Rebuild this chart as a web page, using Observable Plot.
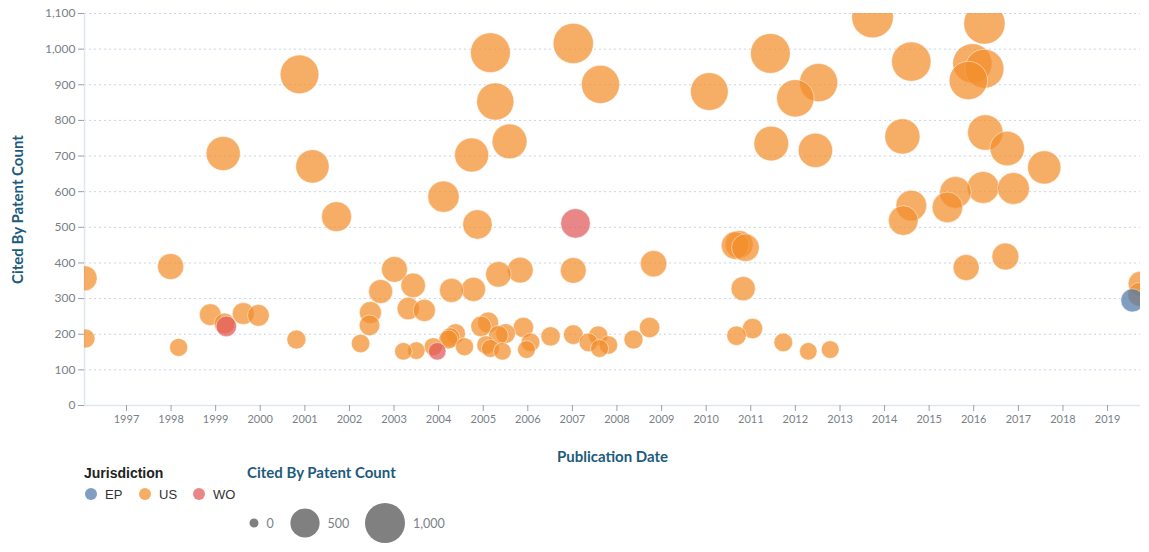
<!DOCTYPE html>
<html>
<head>
<meta charset="utf-8">
<script src="https://cdn.jsdelivr.net/npm/d3@7"></script>
<script src="https://cdn.jsdelivr.net/npm/@observablehq/plot@0.6"></script>
<style>
  html, body { margin: 0; padding: 0; background: #fff; }
  #wrap { position: relative; width: 1149px; height: 552px; font-family: Lato, "Open Sans", sans-serif; }
  #chart svg { display: block; }
  g[aria-label="y-axis label"] text, g[aria-label="x-axis label"] text {
    fill: #1d5b7c; font-size: 15px; font-weight: 700; font-family: Lato, sans-serif;
  }
  g[aria-label="y-axis tick label"] text, g[aria-label="x-axis tick label"] text { fill: #7a7f87; }
  #legend { position: absolute; left: 0; top: 462px; width: 1149px; height: 90px; }
</style>
</head>
<body>
<div id="wrap">
  <div id="chart"></div>
  <svg id="legend" width="1149" height="90"></svg>
</div>
<script>
// ---- data (decimal publication year, cited-by count) ----
const usYears = [1996.06,1996.08,1997.99,1998.17,1998.88,1999.17,1999.20,1999.62,1999.96,2000.81,2000.88,2001.17,2001.71,
  2002.25,2002.45,2002.47,2002.70,2003.01,2003.21,2003.32,2003.43,2003.50,2003.68,2003.88,2004.11,2004.22,2004.26,2004.38,
  2004.29,2004.58,2004.74,2004.78,2004.87,2004.95,2005.11,2005.06,2005.16,2005.34,2005.43,2005.50,2005.16,2005.27,2005.34,
  2005.59,2005.83,2005.90,2005.97,2006.06,2006.51,2007.02,2007.02,2007.02,2007.36,2007.58,2007.61,2007.81,2007.63,2008.37,
  2008.73,2008.82,2010.07,2010.65,2010.74,2010.88,2010.68,2010.83,2011.04,2011.44,2011.46,2011.73,2012.00,2012.29,2012.45,
  2012.52,2012.78,2013.73,2014.60,2014.40,2014.60,2014.42,2016.24,2015.97,2016.24,2015.88,2016.26,2016.75,2017.58,2015.59,
  2015.41,2016.21,2016.89,2015.83,2016.71,2019.74,2019.72];
const usCounts = [357,188,390,163,255,707,230,258,253,185,929,671,530,
  174,225,261,320,382,152,272,337,154,267,165,586,185,191,202,
  323,165,703,326,508,222,233,170,160,197,152,202,990,853,368,
  741,380,219,157,177,194,1016,379,199,177,196,160,170,901,185,
  219,398,881,449,452,443,196,328,216,988,735,177,862,152,716,
  906,157,1090,965,755,561,519,1072,960,945,912,766,721,668,598,
  556,612,609,387,418,342,312];
const epYears = [2019.56];
const epCounts = [295];
const woYears = [1999.24, 2003.97, 2007.07];
const woCounts = [222, 152, 511];

const jurisdictions = ["EP", "US", "WO"];
const jurisdictionColors = ["#4e79a7", "#f28e2b", "#e15759"];
const yTicks = [0,100,200,300,400,500,600,700,800,900,1000,1100];
const sizeLegendValues = [0, 500, 1000];

// ---- build table ----
function decYear(y) {
  const yr = Math.floor(y);
  const s = Date.UTC(yr, 0, 1), e = Date.UTC(yr + 1, 0, 1);
  return new Date(s + (y - yr) * (e - s));
}
const rows = [];
epYears.forEach((y, i) => rows.push({date: decYear(y), count: epCounts[i], jur: "EP"}));
usYears.forEach((y, i) => rows.push({date: decYear(y), count: usCounts[i], jur: "US"}));
woYears.forEach((y, i) => rows.push({date: decYear(y), count: woCounts[i], jur: "WO"}));

const minDate = d3.min(rows, d => d.date);
const rScale = {type: "sqrt", domain: [0, 1000], range: [1.6, 20]};
const commaFmt = d3.format(",");

const chart = Plot.plot({
  width: 1149,
  height: 470,
  marginLeft: 84,
  marginRight: 9,
  marginTop: 13,
  marginBottom: 65,
  style: {fontFamily: "Lato, 'Open Sans', sans-serif", fontSize: "12px", color: "#7a7f87"},
  x: {type: "utc"},
  y: {domain: [0, 1100]},
  r: rScale,
  color: {domain: jurisdictions, range: jurisdictionColors},
  marks: [
    Plot.gridY(yTicks, {stroke: "#c9d4e6", strokeOpacity: 1, strokeDasharray: "2,3"}),
    Plot.ruleY([0], {stroke: "#dfe6f0", strokeWidth: 1.5}),
    Plot.ruleX([minDate], {stroke: "#dfe6f0", strokeWidth: 1.5}),
    Plot.axisY({ticks: yTicks, tickFormat: commaFmt, tickSize: 6, tickPadding: 3, stroke: "#9aa0a8",
      label: "Cited By Patent Count", labelAnchor: "center", labelArrow: "none", labelOffset: 72}),
    Plot.axisX({ticks: d3.utcYear.every(1), tickFormat: "%Y", tickSize: 6, tickPadding: 4, stroke: "#9aa0a8",
      fontSize: 11, label: "Publication Date", labelAnchor: "center", labelArrow: "none", labelOffset: 56}),
    Plot.dot(rows, {x: "date", y: "count", r: "count", fill: "jur", fillOpacity: 0.72,
      stroke: "#fff", strokeOpacity: 0.6, strokeWidth: 0.8, clip: true})
  ]
});
document.getElementById("chart").appendChild(chart);

// ---- legends ----
const lg = d3.select("#legend");
lg.append("text").attr("x", 84).attr("y", 16).text("Jurisdiction")
  .attr("font-family", "'Liberation Sans', Arial, sans-serif").attr("font-weight", "bold")
  .attr("font-size", 14).attr("fill", "#222");
const itemX = [91, 145, 199];
jurisdictions.forEach((j, i) => {
  lg.append("circle").attr("cx", itemX[i]).attr("cy", 32).attr("r", 6)
    .attr("fill", jurisdictionColors[i]).attr("fill-opacity", 0.72);
  lg.append("text").attr("x", itemX[i] + 14).attr("y", 37).text(j)
    .attr("font-family", "'Liberation Sans', Arial, sans-serif").attr("font-size", 13).attr("fill", "#333");
});
lg.append("text").attr("x", 247).attr("y", 16).text("Cited By Patent Count")
  .attr("font-family", "Lato, sans-serif").attr("font-weight", "bold")
  .attr("font-size", 15).attr("fill", "#1d5b7c");
const sr = d3.scaleSqrt().domain(rScale.domain).range(rScale.range);
const sizeX = [254, 305, 385];
sizeLegendValues.forEach((v, i) => {
  const r = Math.max(4.5, sr(v));
  lg.append("circle").attr("cx", sizeX[i]).attr("cy", 61).attr("r", r).attr("fill", "#808080");
  lg.append("text").attr("x", sizeX[i] + r + 8).attr("y", 66).text(commaFmt(v))
    .attr("font-family", "Lato, sans-serif").attr("font-size", 12.5).attr("fill", "#7a7f87");
});
</script>
</body>
</html>
